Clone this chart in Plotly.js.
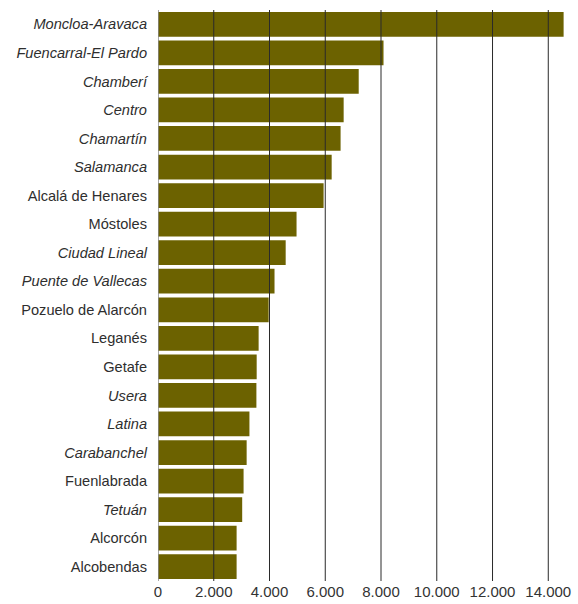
<!DOCTYPE html>
<html>
<head>
<meta charset="utf-8">
<script src="https://cdn.plot.ly/plotly-3.0.1.min.js"></script>
<style>html,body{margin:0;padding:0;background:#fff;}#chart{width:578px;height:604px;}</style>
</head>
<body>
<div id="chart"></div>
<script>
const categories = ["Moncloa-Aravaca","Fuencarral-El Pardo","Chamberí","Centro","Chamartín","Salamanca","Alcalá de Henares","Móstoles","Ciudad Lineal","Puente de Vallecas","Pozuelo de Alarcón","Leganés","Getafe","Usera","Latina","Carabanchel","Fuenlabrada","Tetuán","Alcorcón","Alcobendas"];
const italicFlags = [true,true,true,true,true,true,false,false,true,true,false,false,false,true,true,true,false,true,false,false];
const values = [14550,8090,7200,6660,6550,6230,5940,4970,4580,4180,3970,3610,3540,3530,3280,3180,3070,3020,2820,2820];
const tickVals = [0,2000,4000,6000,8000,10000,12000,14000];

const tickText = categories.map((c,i) => italicFlags[i] ? "<i>"+c+"</i>" : c);

const gridShapes = tickVals.map(v => ({
  type: "line", xref: "x", yref: "paper", x0: v, x1: v, y0: 0, y1: 1,
  layer: "above",
  line: {color: v === 0 ? "#8a8a8a" : "#2a2a2a", width: v === 0 ? 1.5 : 1}
}));

const trace = {
  type: "bar", orientation: "h",
  x: values, y: categories,
  marker: {color: "#6c6200", line: {width: 0}},
  hoverinfo: "x+y"
};

const layout = {
  width: 578, height: 604,
  margin: {l: 158, r: 13, t: 10, b: 23},
  paper_bgcolor: "#fff", plot_bgcolor: "#fff",
  bargap: 0.134,
  showlegend: false,
  separators: ",.",
  font: {family: "Liberation Sans, Arial, sans-serif", color: "#333", size: 14},
  xaxis: {
    range: [0, 14600], tickvals: tickVals, tickformat: ",d",
    showgrid: false, zeroline: false, showline: false, ticks: "",
    tickfont: {size: 15, color: "#333"}, fixedrange: true
  },
  yaxis: {
    type: "category", autorange: "reversed",
    tickvals: categories, ticktext: tickText,
    showgrid: false, zeroline: false, showline: false, ticks: "",
    ticklabelstandoff: 10,
    tickfont: {size: 14.6, color: "#2e2e2e"}, fixedrange: true
  },
  shapes: gridShapes
};

Plotly.newPlot("chart", [trace], layout, {displayModeBar: false, staticPlot: true});
</script>
</body>
</html>
